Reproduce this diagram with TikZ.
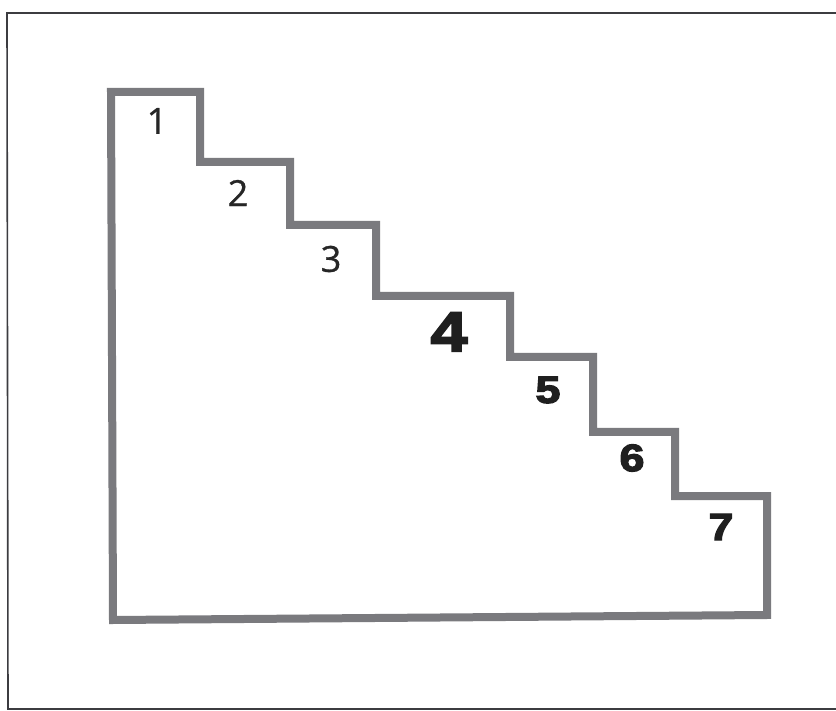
\documentclass[tikz,border=0pt]{standalone}
\usepackage{fontspec}
\setmainfont{Open Sans}
\newfontfamily\lightfont[FakeBold=0.8]{Open Sans}
\newfontfamily\heavyfont[FakeBold=3.5,FakeStretch=1.18]{Liberation Sans Bold}
\usetikzlibrary{positioning}
\definecolor{stairgray}{RGB}{122,122,126}
\definecolor{framegray}{RGB}{60,60,64}
\tikzset{
  lightnum/.style={inner sep=0pt, font=\lightfont\fontsize{36}{36}\selectfont, text=black!85},
  heavynum/.style={inner sep=0pt, font=\heavyfont\fontsize{38}{38}\selectfont, text=black!88},
}

\begin{document}
\begin{tikzpicture}[x=1pt,y=-1pt]
    \useasboundingbox (0,0) rectangle (836,711);
    \fill[white] (0,0) rectangle (836,711);
    % outer frame, right edge runs off the page
    \draw[framegray,line width=1.6pt] (845,13) -- (7,13) -- (8,709) -- (845,709);
    % the staircase
    \draw[stairgray,line width=8pt,line join=miter] (111,92) -- (200,92) -- (200,162) -- (290,162)
      -- (290,225) -- (376,225) -- (376,296) -- (510,296) -- (510,357) -- (593,357)
      -- (593,432) -- (675,432) -- (675,496) -- (767,496) -- (767,615) -- (113,620) -- cycle;
    \node[lightnum] (one) at (157,121) {1};
    \node[lightnum] (two) at (238,193) {2};
    \node[lightnum] (three) at (331,259) {3};
    \node[heavynum,font=\heavyfont\fontsize{56}{56}\selectfont] (four) at (449,332) {4};
    \node[heavynum] (five) at (548,390) {5};
    \node[heavynum] (six) at (632,458) {6};
    \node[heavynum] (seven) at (721,527) {7};
  \end{tikzpicture}
\end{document}
